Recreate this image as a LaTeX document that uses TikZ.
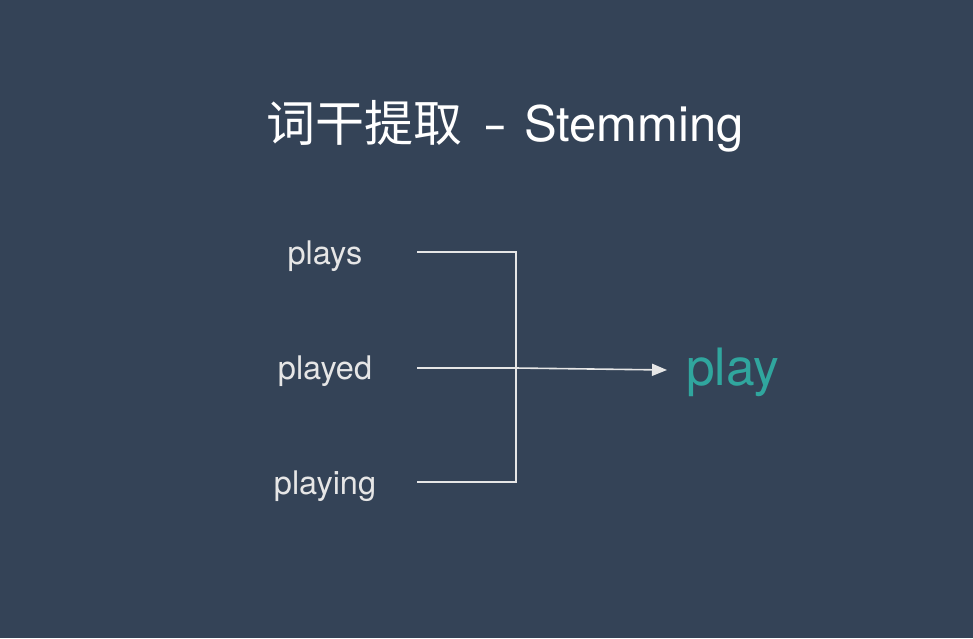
\documentclass[tikz,border=0pt]{standalone}
\usepackage{fontspec}
\usepackage{graphicx}
\setmainfont{TeX Gyre Heros}
\newfontfamily\cjk{Noto Sans CJK SC}
\usetikzlibrary{arrows.meta}
\definecolor{bgc}{HTML}{344357}
\definecolor{fgc}{HTML}{E6E6E6}
\definecolor{tealc}{HTML}{30A69E}
\begin{document}
\begin{tikzpicture}[x=1pt,y=-1pt,
  lbl/.style={text=fgc,font=\fontsize{32.5}{36}\selectfont,inner sep=0pt},
  conn/.style={draw=fgc,line width=1.6pt}]
\fill[bgc] (0,0) rectangle (973,638);
\useasboundingbox (0,0) rectangle (973,638);
\node[text=white,font=\fontsize{49}{56}\selectfont,inner sep=0pt] (title) at (505,126) {{\cjk 词干提取}\hspace{0.5em}\scalebox{0.65}[1]{–}\hspace{0.4em}Stemming};
\node[lbl] (plays) at (325,256) {plays};
\node[lbl] (played) at (325,371) {played};
\node[lbl] (playing) at (325,486) {playing};
\node[text=tealc,font=\fontsize{51.5}{56}\selectfont,inner sep=0pt,anchor=west] (play) at (686,372) {play};
\coordinate (s1) at (417,252);
\coordinate (s2) at (417,368);
\coordinate (s3) at (417,482);
\coordinate (j) at (516,368);
\coordinate (tip) at (667,370);
\draw[conn] (s1) -| (j);
\draw[conn] (s3) -| (j);
\draw[conn] (s2) -- (j);
\draw[conn,-{Triangle[length=15pt,width=12pt]}] (j) -- (tip);
\end{tikzpicture}
\end{document}
